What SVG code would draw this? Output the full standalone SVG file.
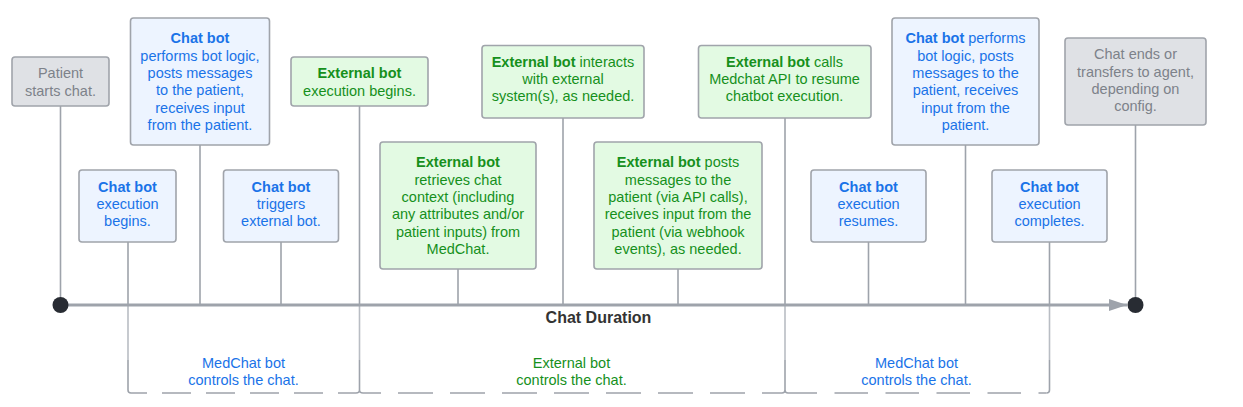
<svg xmlns="http://www.w3.org/2000/svg" width="1243" height="407" viewBox="0 0 1243 407">
<defs>
<style>
text{font-family:"Liberation Sans",Arial,sans-serif;font-size:14.5px;text-anchor:middle}
.b{font-weight:bold}
.box{stroke:#a0a4ab;stroke-width:1.6}
.gray{fill:#dfe1e5}
.blue{fill:#edf4ff}
.green{fill:#e3fae3}
.tg{fill:#7d828a}
.tb{fill:#1a73e8}
.tn{fill:#16901c}
.stem{stroke:#9ea3ab;stroke-width:1.6;fill:none}
.stemlo{stroke:#b9bdc4;stroke-width:1.6;fill:none}
.brk{stroke:#9ea3ab;stroke-width:1.6;fill:none}
</style>
<marker id="arr" markerWidth="18" markerHeight="12" refX="18" refY="6" orient="auto" markerUnits="userSpaceOnUse">
<path d="M0,0 L18,6 L0,12 Z" fill="#9ea3ab"/>
</marker>
</defs>
<rect width="1243" height="407" fill="#ffffff"/>

<g id="connectors">
<path class="stem" d="M60.5,106 V305 M200,145 V305 M128,242 V305 M281,242 V305 M359.5,106 V305 M458,269 V305 M563,118 V305 M678,269 V305 M785,118 V305 M868.5,242 V305 M965.5,145 V305 M1049.5,242 V305 M1135.5,125 V305"/>
<path class="stemlo" d="M128,305 V360 M359.5,305 V360 M785,305 V360 M1049.5,305 V360"/>
<line x1="60" y1="305" x2="1127" y2="305" stroke="#9ea3ab" stroke-width="3" marker-end="url(#arr)"/>
<circle cx="60.5" cy="305" r="8" fill="#282c33"/>
<circle cx="1135.5" cy="305" r="8" fill="#282c33"/>
</g>

<g id="brackets">
<path class="brk" d="M128,360 V390 Q128,393 131,393 M356,393 Q359.5,393 359.5,390 Q359.5,393 363,393 M359.5,360 V390 M782,393 Q785,393 785,390 Q785,393 788,393 M785,360 V390 M1046.5,393 Q1049.5,393 1049.5,390 V360"/>
<line class="brk" x1="131" y1="393" x2="356" y2="393" stroke-dasharray="29 15" stroke-dashoffset="13"/>
<line class="brk" x1="363" y1="393" x2="782" y2="393" stroke-dasharray="35 17" stroke-dashoffset="17"/>
<line class="brk" x1="788" y1="393" x2="1046.5" y2="393" stroke-dasharray="33.5 17.5" stroke-dashoffset="4.5"/>
<text class="tb" x="243.5" y="368">MedChat bot</text>
<text class="tb" x="243.5" y="385">controls the chat.</text>
<text class="tn" x="571.5" y="368">External bot</text>
<text class="tn" x="571.5" y="385">controls the chat.</text>
<text class="tb" x="916.5" y="368">MedChat bot</text>
<text class="tb" x="916.5" y="385">controls the chat.</text>
<text x="598.5" y="323" class="b" style="font-size:16px" fill="#333333">Chat Duration</text>
</g>

<g id="n1">
<rect class="box gray" x="12" y="57" width="97" height="49" rx="3"/>
<text class="tg" x="60.5" y="78.3">Patient</text>
<text class="tg" x="60.5" y="95.8">starts chat.</text>
</g>

<g id="n2">
<rect class="box blue" x="130.5" y="18" width="139" height="127" rx="3"/>
<text class="tb" x="200" y="43.3"><tspan class="b">Chat bot</tspan></text>
<text class="tb" x="200" y="60.6">performs bot logic,</text>
<text class="tb" x="200" y="78">posts messages</text>
<text class="tb" x="200" y="95.3">to the patient,</text>
<text class="tb" x="200" y="112.6">receives input</text>
<text class="tb" x="200" y="130">from the patient.</text>
</g>

<g id="n3">
<rect class="box blue" x="79" y="170" width="97" height="72" rx="3"/>
<text class="tb b" x="127.5" y="191.7">Chat bot</text>
<text class="tb" x="127.5" y="209">execution</text>
<text class="tb" x="127.5" y="226.3">begins.</text>
</g>

<g id="n4">
<rect class="box blue" x="223.5" y="170" width="115" height="72" rx="3"/>
<text class="tb b" x="281" y="191.7">Chat bot</text>
<text class="tb" x="281" y="209">triggers</text>
<text class="tb" x="281" y="226.3">external bot.</text>
</g>

<g id="n5">
<rect class="box green" x="291" y="57" width="137" height="49" rx="3"/>
<text class="tn b" x="359.5" y="78.3">External bot</text>
<text class="tn" x="359.5" y="95.8">execution begins.</text>
</g>

<g id="n6">
<rect class="box green" x="380" y="142" width="156" height="127" rx="3"/>
<text class="tn b" x="458" y="167.3">External bot</text>
<text class="tn" x="458" y="184.6">retrieves chat</text>
<text class="tn" x="458" y="202">context (including</text>
<text class="tn" x="458" y="219.3">any attributes and/or</text>
<text class="tn" x="458" y="236.6">patient inputs) from</text>
<text class="tn" x="458" y="254">MedChat.</text>
</g>

<g id="n7">
<rect class="box green" x="482" y="45.5" width="162" height="72.5" rx="3"/>
<text class="tn" x="563" y="66.7"><tspan class="b">External bot</tspan> interacts</text>
<text class="tn" x="563" y="84">with external</text>
<text class="tn" x="563" y="101.3">system(s), as needed.</text>
</g>

<g id="n8">
<rect class="box green" x="594" y="142" width="168" height="127" rx="3"/>
<text class="tn" x="678" y="167.3"><tspan class="b">External bot</tspan> posts</text>
<text class="tn" x="678" y="184.6">messages to the</text>
<text class="tn" x="678" y="202">patient (via API calls),</text>
<text class="tn" x="678" y="219.3">receives input from the</text>
<text class="tn" x="678" y="236.6">patient (via webhook</text>
<text class="tn" x="678" y="254">events), as needed.</text>
</g>

<g id="n9">
<rect class="box green" x="698.5" y="45.5" width="172.5" height="72.5" rx="3"/>
<text class="tn" x="784.5" y="66.7"><tspan class="b">External bot</tspan> calls</text>
<text class="tn" x="784.5" y="84">Medchat API to resume</text>
<text class="tn" x="784.5" y="101.3">chatbot execution.</text>
</g>

<g id="n10">
<rect class="box blue" x="811" y="170" width="115" height="72" rx="3"/>
<text class="tb b" x="868.5" y="191.7">Chat bot</text>
<text class="tb" x="868.5" y="209">execution</text>
<text class="tb" x="868.5" y="226.3">resumes.</text>
</g>

<g id="n11">
<rect class="box blue" x="892" y="18" width="147" height="127" rx="3"/>
<text class="tb" x="965.5" y="43.3"><tspan class="b">Chat bot</tspan> performs</text>
<text class="tb" x="965.5" y="60.6">bot logic, posts</text>
<text class="tb" x="965.5" y="78">messages to the</text>
<text class="tb" x="965.5" y="95.3">patient, receives</text>
<text class="tb" x="965.5" y="112.6">input from the</text>
<text class="tb" x="965.5" y="130">patient.</text>
</g>

<g id="n12">
<rect class="box blue" x="992" y="170" width="115" height="72" rx="3"/>
<text class="tb b" x="1049.5" y="191.7">Chat bot</text>
<text class="tb" x="1049.5" y="209">execution</text>
<text class="tb" x="1049.5" y="226.3">completes.</text>
</g>

<g id="n13">
<rect class="box gray" x="1065" y="38" width="141" height="87" rx="3"/>
<text class="tg" x="1135.5" y="59.3">Chat ends or</text>
<text class="tg" x="1135.5" y="76.6">transfers to agent,</text>
<text class="tg" x="1135.5" y="94">depending on</text>
<text class="tg" x="1135.5" y="111.3">config.</text>
</g>
</svg>
